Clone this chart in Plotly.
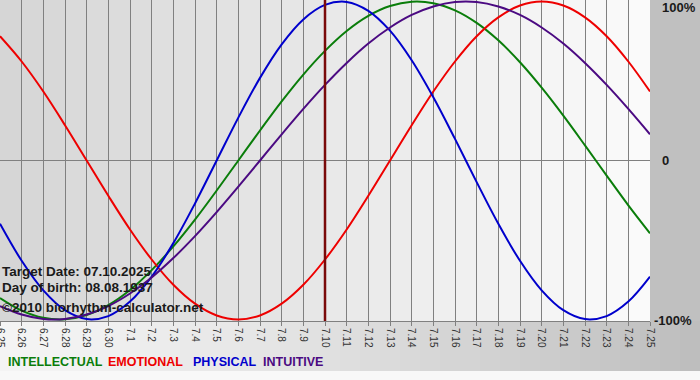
import plotly.graph_objects as go

dates = ["6.25", "6.26", "6.27", "6.28", "6.29", "6.30",
         "7.1", "7.2", "7.3", "7.4", "7.5", "7.6", "7.7", "7.8", "7.9", "7.10",
         "7.11", "7.12", "7.13", "7.14", "7.15", "7.16", "7.17", "7.18", "7.19",
         "7.20", "7.21", "7.22", "7.23", "7.24", "7.25"]

intellectual = [-86.6, -94.5, -99.0, -99.9, -97.2, -91.0, -81.5, -69.0, -54.1, -37.2, -18.9,
                0.0, 18.9, 37.2, 54.1, 69.0, 81.5, 91.0, 97.2, 99.9, 99.0, 94.5, 86.6,
                75.6, 61.8, 45.8, 28.2, 9.5, -9.5, -28.2, -45.8]
emotional = [78.2, 62.3, 43.4, 22.2, 0.0, -22.2, -43.4, -62.3, -78.2, -90.1, -97.5,
             -100.0, -97.5, -90.1, -78.2, -62.3, -43.4, -22.2, 0.0, 22.2, 43.4, 62.3,
             78.2, 90.1, 97.5, 100.0, 97.5, 90.1, 78.2, 62.3, 43.4]
physical = [-39.8, -63.1, -81.7, -94.2, -99.8, -97.9, -88.8, -73.1, -52.0, -27.0, 0.0,
            27.0, 52.0, 73.1, 88.8, 97.9, 99.8, 94.2, 81.7, 63.1, 39.8, 13.6, -13.6,
            -39.8, -63.1, -81.7, -94.2, -99.8, -97.9, -88.8, -73.1]
intuitive = [-91.6, -96.9, -99.7, -99.7, -96.9, -91.6, -83.7, -73.6, -61.4, -47.6, -32.5,
             -16.5, 0.0, 16.5, 32.5, 47.6, 61.4, 73.6, 83.7, 91.6, 96.9, 99.7, 99.7,
             96.9, 91.6, 83.7, 73.6, 61.4, 47.6, 32.5, 16.5]

series_names = ["INTELLECTUAL", "EMOTIONAL", "PHYSICAL", "INTUITIVE"]
series_colors = ["#0a7d0a", "#ee0000", "#0000cc", "#4b0a82"]
series_values = [intellectual, emotional, physical, intuitive]
target_date = "7.10"
info_lines = ["Target Date: 07.10.2025", "Day of birth: 08.08.1937",
              "\u00a92010 biorhythm-calculator.net"]
y_labels = ["100%", "0", "-100%"]

W, H = 700, 380
PL, PR, PT, PB = 0, 50, 0, 59
PW, PH = W - PL - PR, H - PT - PB

def px_x(px):
    return (px - PL) / PW

def px_y(py):
    return (PH + PT - py) / PH

def lerp_color(c1, c2, t):
    r = round(c1[0] + (c2[0] - c1[0]) * t)
    g = round(c1[1] + (c2[1] - c1[1]) * t)
    b = round(c1[2] + (c2[2] - c1[2]) * t)
    return f"rgb({r},{g},{b})"

fig = go.Figure()
for name, col, vals in zip(series_names, series_colors, series_values):
    fig.add_trace(go.Scatter(x=dates, y=vals, mode="lines", name=name,
                             line=dict(color=col, width=2, shape="spline"),
                             showlegend=False, hoverinfo="skip"))

shapes = []
n = len(dates) - 1
# plot area column gradient
for i in range(n):
    t = i / (n - 1)
    shapes.append(dict(type="rect", xref="x", yref="paper", x0=i, x1=i + 1, y0=0, y1=1,
                       fillcolor=lerp_color((214, 214, 214), (250, 250, 250), t),
                       line=dict(width=0), layer="below"))
# right panel
shapes.append(dict(type="rect", xref="paper", yref="paper", x0=1, x1=px_x(W), y0=0, y1=1,
                   fillcolor="#c0c0c0", line=dict(width=0), layer="below"))
# bottom gradient panel
strips = 35
for i in range(strips):
    t = i / (strips - 1)
    x0 = i * W / strips
    x1 = (i + 1) * W / strips + 0.5
    shapes.append(dict(type="rect", xref="paper", yref="paper", x0=px_x(x0), x1=px_x(x1),
                       y0=px_y(371), y1=0,
                       fillcolor=lerp_color((244, 244, 244), (190, 190, 190), t ** 1.3),
                       line=dict(width=0), layer="below"))
# target date line
ti = dates.index(target_date)
shapes.append(dict(type="line", xref="x", yref="paper", x0=ti, x1=ti, y0=0, y1=1,
                   line=dict(color="#7a0a0a", width=2.5), layer="above"))

annotations = []
for i, txt in enumerate(info_lines):
    annotations.append(dict(text="<b>" + txt + "</b>", xref="paper", yref="paper",
                            x=px_x(0), y=px_y(271 + i * 16 + (4 if i == 2 else 0)),
                            xanchor="left", yanchor="middle", showarrow=False,
                            font=dict(family="Liberation Sans", size=13.5, color="#1a1a1a")))
legend_x = [6, 106, 191, 261]
for name, col, lx in zip(series_names, series_colors, legend_x):
    annotations.append(dict(text="<b>" + name + "</b>", xref="paper", yref="paper",
                            x=px_x(lx), y=px_y(362), xanchor="left", yanchor="middle",
                            showarrow=False,
                            font=dict(family="Liberation Sans", size=12.5, color=col)))
y_label_pos = [(660, 7), (660, 161), (652, 320)]
for lab, (lx, ly) in zip(y_labels, y_label_pos):
    annotations.append(dict(text="<b>" + lab + "</b>", xref="paper", yref="paper",
                            x=px_x(lx), y=px_y(ly), xanchor="left", yanchor="middle",
                            showarrow=False,
                            font=dict(family="Liberation Sans", size=13, color="#1a1a1a")))

fig.update_layout(
    width=W, height=H,
    margin=dict(l=PL, r=PR, t=PT, b=PB, pad=0, autoexpand=False),
    paper_bgcolor="#f8f8f8",
    plot_bgcolor="rgba(0,0,0,0)",
    shapes=shapes,
    annotations=annotations,
    showlegend=False,
    xaxis=dict(type="category", range=[0, n], showgrid=True, gridcolor="#808080",
               gridwidth=1, ticks="outside", ticklen=4, tickcolor="#808080",
               tickangle=90, showline=True, linecolor="#808080", linewidth=1,
               tickfont=dict(family="Liberation Sans", size=10, color="#333333"),
               zeroline=False, fixedrange=True, automargin=False),
    yaxis=dict(range=[-101, 101], showgrid=False, showticklabels=False,
               zeroline=True, zerolinecolor="#808080", zerolinewidth=1,
               fixedrange=True, automargin=False),
)

fig.write_html("out.html", config={"displayModeBar": False},
               post_script="document.body.style.margin='0';document.body.style.overflow='hidden';")
